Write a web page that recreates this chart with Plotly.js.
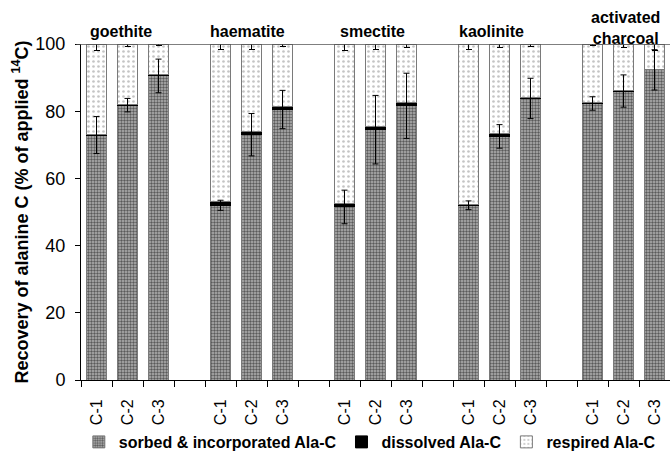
<!DOCTYPE html>
<html><head><meta charset="utf-8">
<script src="https://cdn.plot.ly/plotly-3.0.1.min.js"></script>
<style>html,body{margin:0;padding:0;background:#fff}#chart{width:670px;height:451px}</style>
</head><body><div id="chart"></div>
<script>
const groups = ['goethite','haematite','smectite','kaolinite','activated<br>charcoal'];
const treatments = ['C-1','C-2','C-3'];
const sorbed      = [72.9, 81.8, 90.5, 52.0, 73.0, 80.5, 51.5, 74.5, 81.6, 52.0, 72.5, 83.8, 82.3, 86.0, 92.3];
const sorbedErr   = [5.5, 2.0, 5.0, 1.5, 6.3, 5.7, 5.0, 10.2, 9.7, 1.3, 3.5, 6.0, 2.0, 4.8, 6.0];
const dissolved   = [0.3, 0.3, 0.3, 1.0, 1.0, 1.0, 1.0, 1.0, 1.0, 0.3, 0.8, 0.3, 0.2, 0.2, 0.2];
const respired    = [26.8, 17.9, 9.2, 47.0, 26.0, 18.5, 47.5, 24.5, 17.4, 47.7, 26.7, 15.9, 17.5, 13.8, 7.5];
const respiredErr = [1.8, 0.8, 0.4, 1.6, 1.6, 0.8, 1.8, 1.6, 1.1, 1.6, 1.1, 0.8, 0.4, 1.0, 1.8];
const seriesNames = ['sorbed & incorporated Ala-C','dissolved Ala-C','respired Ala-C'];

// build category list with a blank slot between groups
const cats = [], catLabels = [], barX = [];
groups.forEach((g, gi) => {
  treatments.forEach(t => { const k = g + '|' + t; cats.push(k); catLabels.push(t); barX.push(k); });
  if (gi < groups.length - 1) { cats.push('gap' + gi); catLabels.push(''); }
});

const FONT = 'Liberation Sans, Arial, sans-serif';
const outline = {color: '#7a7a7a', width: 1};

const traces = [
  {type:'scatter', x: cats, y: cats.map(() => null), mode:'markers', showlegend:false, hoverinfo:'skip'},
  {type:'bar', name: seriesNames[0], x: barX, y: sorbed,
   marker:{color:'#a8a8a8', line: outline, pattern:{shape:'.', fgcolor:'#000', bgcolor:'#b4b4b4', size:3, solidity:0.5, fillmode:'overlay'}}},
  {type:'bar', name: seriesNames[1], x: barX, y: dissolved,
   marker:{color:'#000', line:{color:'#000', width:1}}},
  {type:'bar', name: seriesNames[2], x: barX, y: respired,
   error_y:{type:'data', array: respiredErr, visible:true, color:'#000', thickness:1, width:3},
   marker:{color:'#fff', line: outline, pattern:{shape:'.', fgcolor:'#8a8a8a', bgcolor:'#fff', size:5, solidity:0.22, fillmode:'overlay'}}},
  {type:'scatter', x: barX, y: sorbed, mode:'markers', marker:{size:1, opacity:0}, showlegend:false, hoverinfo:'skip',
   error_y:{type:'data', array: sorbedErr, visible:true, color:'#000', thickness:1, width:3}}
];

const labelShift = [-7, -4, -3, -8, 2];
const annotations = groups.map((g, gi) => ({
  x: g + '|C-2', xref:'x', yref:'paper', xshift: labelShift[gi],
  y: g.indexOf('<br>') >= 0 ? 1.049 : 1.038, yanchor:'middle', xanchor:'center',
  text: '<b>' + g + '</b>', showarrow:false,
  font:{family: FONT, size:16, color:'#000'}
}));

const layout = {
  width: 670, height: 451,
  margin: {l: 81, r: 0, t: 44, b: 71, pad: 0},
  paper_bgcolor:'#fff', plot_bgcolor:'#fff',
  barmode:'stack', bargap: 0.34,
  font:{family: FONT, color:'#000'},
  showlegend: true,
  legend:{orientation:'h', x:0.552, xref:'container', xanchor:'center', yref:'container', y:0.02, yanchor:'middle',
          bgcolor:'rgba(0,0,0,0)', tracegroupgap:0,
          font:{family: FONT, size:16, color:'#000', weight:'bold'}, traceorder:'normal', itemwidth:30},
  xaxis:{type:'category', categoryorder:'array', categoryarray: cats, tickmode:'array', tickvals: cats, ticktext: catLabels,
         range:[-0.5, cats.length - 0.5], tickson:'boundaries', ticks:'outside', ticklen:6, tickcolor:'#000',
         showline:true, linecolor:'#000', linewidth:1, tickangle:-90, showgrid:false, zeroline:false,
         ticklabelstandoff: 12,
         tickfont:{family: FONT, size:16, color:'#000'}},
  yaxis:{range:[0,100], tickvals:[0,20,40,60,80,100], ticks:'outside', ticklen:5, tickcolor:'#000',
         showline:true, linecolor:'#000', linewidth:1, showgrid:false, zeroline:false,
         ticklabelstandoff: 6,
         tickfont:{family: FONT, size:18, color:'#000'},
         title:{text:'<b>Recovery of alanine C (% of applied <sup>14</sup>C)</b>', font:{family: FONT, size:18, color:'#000'}, standoff:2}},
  shapes:[{type:'line', xref:'paper', yref:'y', x0:-0.008, x1:1, y0:100, y1:100, line:{color:'#555', width:1.5}}],
  annotations: annotations
};

Plotly.newPlot('chart', traces, layout, {displayModeBar:false, staticPlot:true});
</script></body></html>
